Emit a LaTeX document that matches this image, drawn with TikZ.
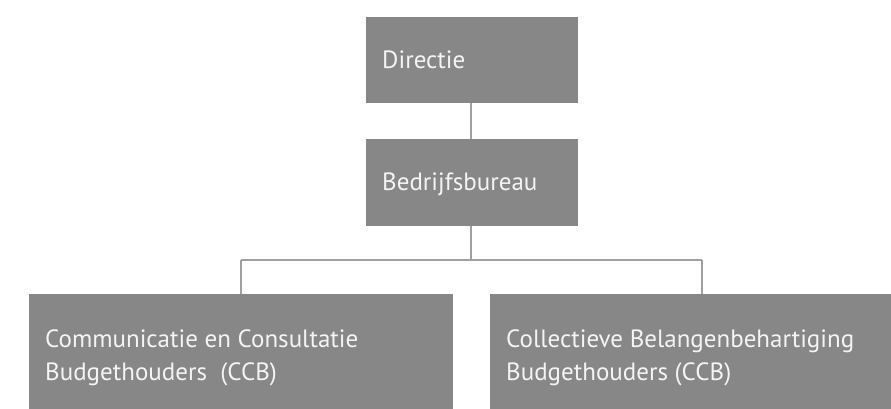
\documentclass[tikz,border=0pt]{standalone}
\usepackage{fontspec}
\setmainfont{PT Sans}
\definecolor{boxgray}{HTML}{878787}
\definecolor{txtwhite}{HTML}{F4F4F4}
\definecolor{linegray}{HTML}{A0A0A0}
\begin{document}
\begin{tikzpicture}[x=1pt,y=-1pt,
  orgbox/.style={fill=boxgray,draw=none,inner sep=0pt,outer sep=0pt,anchor=north west},
  orgtext/.style={text=txtwhite,font=\fontsize{25}{33}\selectfont,anchor=base west,inner sep=0pt,align=left},
  conn/.style={draw=linegray,line width=1.2pt}]
\useasboundingbox (0,0) rectangle (891,408);
\begin{scope}
\clip (0,0) rectangle (891,408);
\node[orgbox,minimum width=212pt,minimum height=86pt] (dir) at (366,17) {};
\node[orgbox,minimum width=212pt,minimum height=87pt] (bed) at (366,139) {};
\node[orgbox,minimum width=424pt,minimum height=130pt] (ccbl) at (29,294) {};
\node[orgbox,minimum width=424pt,minimum height=130pt] (ccbr) at (490,294) {};
\end{scope}
\coordinate (jn) at (471,260);
\coordinate (jl) at (241,260);
\coordinate (jr) at (702,260);
\draw[conn] (dir.south -| jn) -- (bed.north -| jn);
\draw[conn] (bed.south -| jn) -- (jn);
\draw[conn] (jl) -- (jr);
\draw[conn] (jl) -- (ccbl.north -| jl);
\draw[conn] (jr) -- (ccbr.north -| jr);
\node[orgtext] (tdir) at (382,68) {Directie};
\node[orgtext] (tbed) at (382,190) {Bedrijfsbureau};
\node[orgtext] (tl1) at (45,347) {Communicatie en Consultatie};
\node[orgtext] (tl2) at (45,380) {Budgethouders~~(CCB)};
\node[orgtext] (tr1) at (506,347) {Collectieve Belangenbehartiging};
\node[orgtext] (tr2) at (506,380) {Budgethouders (CCB)};
\end{tikzpicture}
\end{document}
